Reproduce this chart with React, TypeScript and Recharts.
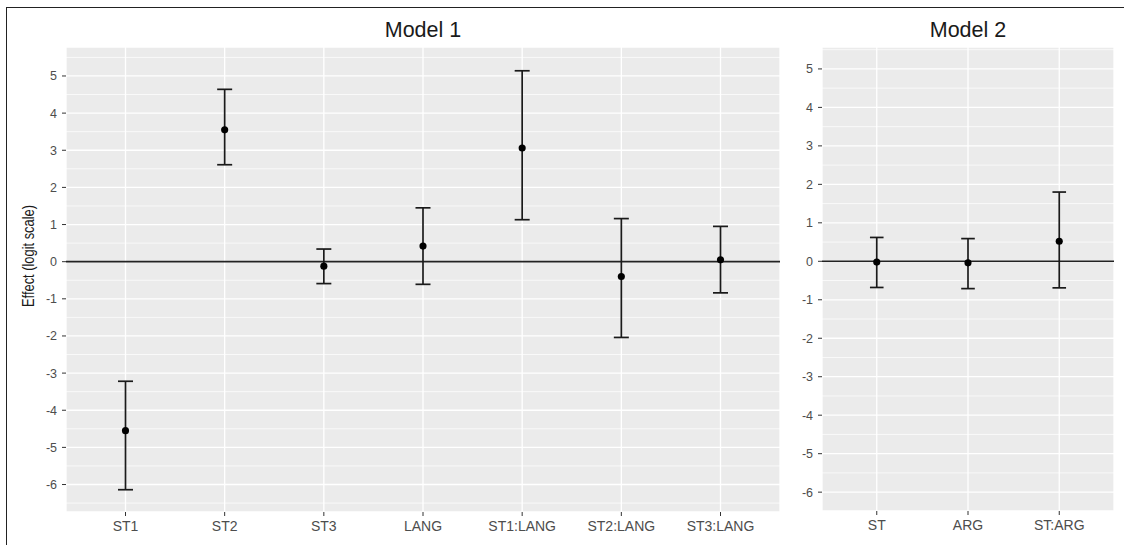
import {
  ScatterChart,
  Scatter,
  XAxis,
  YAxis,
  ZAxis,
  CartesianGrid,
  ErrorBar,
  ReferenceLine,
} from "recharts";

// Model 1 coefficients (logit scale)
const model1Terms = ["ST1", "ST2", "ST3", "LANG", "ST1:LANG", "ST2:LANG", "ST3:LANG"];
const model1Est = [-4.55, 3.55, -0.12, 0.42, 3.06, -0.4, 0.05];
const model1Lower = [-6.14, 2.61, -0.59, -0.61, 1.13, -2.04, -0.84];
const model1Upper = [-3.22, 4.64, 0.34, 1.45, 5.14, 1.16, 0.95];

// Model 2 coefficients
const model2Terms = ["ST", "ARG", "ST:ARG"];
const model2Est = [-0.02, -0.04, 0.52];
const model2Lower = [-0.68, -0.71, -0.69];
const model2Upper = [0.62, 0.59, 1.8];

const yTicks = [-6, -5, -4, -3, -2, -1, 0, 1, 2, 3, 4, 5];
const yMinor = [-6.5, -5.5, -4.5, -3.5, -2.5, -1.5, -0.5, 0.5, 1.5, 2.5, 3.5, 4.5, 5.5];

const FONT = '"Liberation Sans", Arial, Helvetica, sans-serif';

function buildRows(terms: string[], est: number[], lo: number[], hi: number[]) {
  return terms.map((term, i) => ({
    pos: i + 1,
    term,
    est: est[i],
    err: [est[i] - lo[i], hi[i] - est[i]],
  }));
}

interface PanelProps {
  terms: string[];
  est: number[];
  lower: number[];
  upper: number[];
  width: number;
  yDomain: [number, number];
  yAxisWidth: number;
  margin: { top: number; right: number; bottom: number; left: number };
  capWidth: number;
}

function Panel({ terms, est, lower, upper, width, yDomain, yAxisWidth, margin, capWidth }: PanelProps) {
  const rows = buildRows(terms, est, lower, upper);
  const xTicks = terms.map((_, i) => i + 1);

  return (
    <ScatterChart width={width} height={545} margin={margin}>
      <CartesianGrid
        horizontalValues={yMinor}
        vertical={false}
        fill="#ebebeb"
        stroke="#ffffff"
        strokeWidth={0.7}
      />
      <CartesianGrid stroke="#ffffff" strokeWidth={1.3} fill="none" />
      <XAxis
        type="number"
        dataKey="pos"
        domain={[0.4, terms.length + 0.6]}
        ticks={xTicks}
        interval={0}
        allowDataOverflow
        tickFormatter={(v: number) => terms[v - 1] ?? ""}
        axisLine={false}
        tickLine={{ stroke: "#333333", strokeWidth: 1 }}
        tickSize={4}
        tickMargin={5}
        height={25}
        tick={{ fill: "#4d4d4d", fontSize: 14, fontFamily: FONT }}
      />
      <YAxis
        type="number"
        dataKey="est"
        domain={yDomain}
        ticks={yTicks}
        interval={0}
        allowDataOverflow
        axisLine={false}
        tickLine={{ stroke: "#333333", strokeWidth: 1 }}
        tickSize={4}
        tickMargin={5}
        width={yAxisWidth}
        tick={{ fill: "#4d4d4d", fontSize: 12.5, fontFamily: FONT }}
      />
      <ZAxis range={[40, 40]} />
      <ReferenceLine y={0} stroke="#222222" strokeWidth={1.6} ifOverflow="hidden" />
      <Scatter
        data={rows}
        dataKey="est"
        fill="#000000"
        shape="circle"
        isAnimationActive={false}
      >
        <ErrorBar
          dataKey="err"
          direction="y"
          width={capWidth}
          stroke="#1a1a1a"
          strokeWidth={1.7}
          isAnimationActive={false}
        />
      </Scatter>
    </ScatterChart>
  );
}

export default function App() {
  return (
    <div
      style={{
        position: "absolute",
        left: 0,
        top: 0,
        width: 1124,
        height: 545,
        background: "#ffffff",
        overflow: "hidden",
        fontFamily: FONT,
      }}
    >
      <div
        style={{
          position: "absolute",
          left: 6,
          top: 7,
          width: 1124,
          height: 545,
          borderTop: "1.5px solid #222",
          borderLeft: "1.5px solid #222",
        }}
      />
      <div style={{ position: "absolute", left: 0, top: 0 }}>
        <Panel
          terms={model1Terms}
          est={model1Est}
          lower={model1Lower}
          upper={model1Upper}
          width={790}
          yDomain={[-6.74, 5.78]}
          yAxisWidth={30}
          margin={{ top: 47, right: 10, bottom: 8, left: 36 }}
          capWidth={7.5}
        />
      </div>
      <div style={{ position: "absolute", left: 790, top: 0 }}>
        <Panel
          terms={model2Terms}
          est={model2Est}
          lower={model2Lower}
          upper={model2Upper}
          width={334}
          yDomain={[-6.49, 5.57]}
          yAxisWidth={20}
          margin={{ top: 47, right: 10, bottom: 9, left: 12 }}
          capWidth={6.8}
        />
      </div>
      <div
        style={{
          position: "absolute",
          left: 323,
          top: 20,
          width: 200,
          textAlign: "center",
          fontSize: 21.5,
          lineHeight: "21px",
          color: "#1a1a1a",
        }}
      >
        Model 1
      </div>
      <div
        style={{
          position: "absolute",
          left: 868,
          top: 20,
          width: 200,
          textAlign: "center",
          fontSize: 21.5,
          lineHeight: "21px",
          color: "#1a1a1a",
        }}
      >
        Model 2
      </div>
      <div
        style={{
          position: "absolute",
          left: 28 - 100,
          top: 256 - 10,
          width: 200,
          height: 20,
          lineHeight: "20px",
          textAlign: "center",
          fontSize: 16.5,
          color: "#1a1a1a",
          transform: "rotate(-90deg) scaleX(0.78)",
        }}
      >
        Effect (logit scale)
      </div>
    </div>
  );
}
